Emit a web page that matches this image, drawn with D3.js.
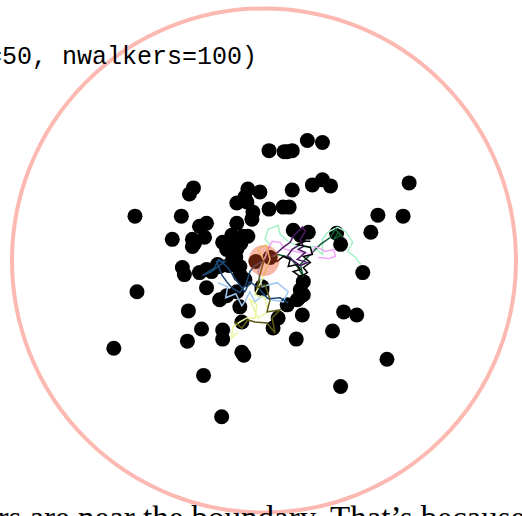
<!DOCTYPE html>
<html>
<head>
<meta charset="utf-8">
<script src="https://cdn.jsdelivr.net/npm/d3@7"></script>
<style>
html,body{margin:0;padding:0;background:#fff;overflow:hidden;}
svg{display:block;}
</style>
</head>
<body>
<svg id="chart" width="522" height="516"></svg>
<script>
// Final walker positions (unit disc coordinates)
const walkerX = [0.02,0.08,0.112,0.172,0.232,-0.296,-0.28,-0.064,-0.016,0.112,0.192,0.232,0.264,0.576,-0.512,-0.328,-0.256,-0.228,-0.108,-0.068,
0.02,0.076,0.452,0.552,-0.364,-0.284,-0.284,-0.236,0.424,0.116,0.176,0.288,0.304,-0.324,-0.316,-0.256,-0.184,-0.116,-0.096,-0.076,
-0.504,-0.228,-0.148,-0.108,-0.008,0.156,0.156,0.392,-0.3,0.152,0.056,0.036,0.128,0.316,0.368,0.272,-0.088,-0.596,-0.304,-0.248,
-0.164,-0.164,-0.08,-0.088,-0.24,-0.168,0.304,0.488,-0.108,-0.048,-0.164,-0.124,-0.084,-0.108,-0.124,-0.096,-0.176,-0.228,0.092,0.132,
0.144,-0.032,0.024,-0.176,-0.096,-0.148,0.144,-0.064,-0.044,-0.112,-0.092,-0.14,-0.208,-0.276,0.144,0.1,-0.076,0.092,-0.128,-0.008];
const walkerY = [0.436,0.432,0.436,0.476,0.468,0.264,0.288,0.284,0.272,0.28,0.3,0.32,0.296,0.308,0.176,0.176,0.136,0.148,0.228,0.232,
0.204,0.212,0.18,0.176,0.084,0.084,0.056,0.092,0.112,0.12,0.112,0.108,0.064,-0.028,-0.056,-0.048,-0.016,-0.016,-0.056,-0.076,
-0.124,-0.108,-0.14,-0.124,-0.104,-0.084,-0.136,-0.048,-0.2,-0.216,-0.228,-0.268,-0.312,-0.204,-0.216,-0.28,-0.244,-0.348,-0.32,-0.272,
-0.276,-0.312,-0.376,-0.364,-0.456,-0.62,-0.5,-0.392,0.148,0.164,0.072,0.084,0.096,0.044,0.004,-0.024,-0.024,-0.036,-0.176,-0.156,
-0.116,-0.004,0.012,-0.156,-0.184,0.044,0.1,0.096,0.192,0.012,0.068,-0.02,-0.044,0.068,-0.144,0.212,0.252,0.432,0.1,-0.116];

// Sample walk trajectories
const walkNames = ["lightgreen","darkgreen","lightpink","darkpurple","black","lightblue","darkblue","lightyellow","olive"];
const walkColors = ["#a6f2c6","#0f5c32","#eea6f7","#4b1862","#000000","#9fc9f3","#1b4a78","#ecf49c","#5c5914"];
const walkLightGreenX = [0,0.024,0.004,0.016,0.056,0.064,0.096,0.144,0.196,0.232,0.232,0.252,0.292,0.324,0.352,0.332,0.364,0.384];
const walkLightGreenY = [0,0.064,0.084,0.124,0.14,0.104,0.076,0.052,0.056,0.024,0.084,0.112,0.132,0.116,0.072,0.036,0.012,-0.016];
const walkDarkGreenX = [0,0.056,0.104,0.132,0.156,0.144,0.184,0.224,0.264,0.284,0.304,0.276,0.296,0.312];
const walkDarkGreenY = [0,0.024,0.012,-0.024,-0.064,-0.016,0.024,0.064,0.092,0.124,0.1,0.084,0.112,0.092];
const walkPinkX = [0,0.016,0.032,0.064,0.084,0.124,0.184,0.204,0.244,0.276,0.284,0.256,0.216];
const walkPinkY = [0,0.044,0.076,0.072,0.044,0.036,0.024,0.056,0.036,0.044,0.016,0.008,0.012];
const walkPurpleX = [0,0.044,0.076,0.104,0.116,0.152,0.164,0.144,0.156,0.136,0.164,0.132,0.172,0.144,0.092,0.112,0.144];
const walkPurpleY = [0,0.024,0.052,0.072,0.096,0.132,0.116,0.084,0.056,0.044,0.032,0.004,-0.008,-0.02,0.016,0.044,0.064];
const walkBlackX = [0,0.032,0.052,0.076,0.104,0.096,0.132,0.144,0.116,0.144,0.172,0.156,0.184,0.156,0.192,0.184,0.132,0.164,0.184];
const walkBlackY = [0,0.012,-0.004,0.016,0.004,-0.024,-0.016,-0.036,-0.044,-0.064,-0.048,-0.028,-0.008,0.016,0.024,0.052,0.064,0.076,0.076];
const walkLightBlueX = [0,-0.024,-0.008,0.052,0.096,0.076,0.032,-0.008,-0.036,-0.056,-0.072,-0.088,-0.112,-0.152,-0.144,-0.184];
const walkLightBlueY = [0,-0.044,-0.104,-0.088,-0.124,-0.164,-0.156,-0.14,-0.164,-0.124,-0.156,-0.18,-0.132,-0.148,-0.104,-0.088];
const walkDarkBlueX = [0,-0.036,-0.056,-0.072,-0.096,-0.128,-0.148,-0.168,-0.188,-0.156,-0.208,-0.244,-0.196,-0.18,-0.144,-0.112,-0.076,-0.056,-0.024,0.016,0.064,0.096];
const walkDarkBlueY = [0,-0.02,-0.044,-0.096,-0.128,-0.108,-0.084,-0.056,-0.004,-0.004,-0.044,-0.06,-0.028,0.004,-0.028,-0.076,-0.124,-0.084,-0.108,-0.152,-0.148,-0.168];
const walkYellowX = [0,-0.024,0.008,0.024,-0.008,-0.036,0.004,0.016,-0.024,-0.056,-0.028,-0.036,-0.068,-0.096,-0.124,-0.128,-0.104];
const walkYellowY = [0,0.044,0.064,0.004,-0.076,-0.136,-0.148,-0.204,-0.228,-0.156,-0.176,-0.228,-0.228,-0.244,-0.264,-0.308,-0.284];
const walkOliveX = [0,-0.016,-0.028,0.004,0.024,0.012,0.064,0.032,0.044,0.012,-0.036,-0.064,-0.088,-0.116];
const walkOliveY = [0,-0.056,-0.108,-0.096,-0.156,-0.204,-0.196,-0.228,-0.288,-0.248,-0.244,-0.236,-0.268,-0.244];

const walksX = [walkLightGreenX,walkDarkGreenX,walkPinkX,walkPurpleX,walkBlackX,walkLightBlueX,walkDarkBlueX,walkYellowX,walkOliveX];
const walksY = [walkLightGreenY,walkDarkGreenY,walkPinkY,walkPurpleY,walkBlackY,walkLightBlueY,walkDarkBlueY,walkYellowY,walkOliveY];

const originX = [0];
const originY = [0];
const boundaryRadius = 1;

const titleText = "simulate(nsteps=50, nwalkers=100)";
const captionText = "walkers are near the boundary. That\u2019s because";

const svg = d3.select("#chart");
const cx = 264, cy = 260.5, R = 252;
const x = d3.scaleLinear().domain([-1, 1]).range([cx - R, cx + R]);
const y = d3.scaleLinear().domain([-1, 1]).range([cy + R, cy - R]);

// boundary circle
svg.append("circle")
  .attr("cx", x(0)).attr("cy", y(0))
  .attr("r", x(boundaryRadius) - x(0))
  .attr("fill", "none")
  .attr("stroke", "#fa8072").attr("stroke-opacity", 0.55)
  .attr("stroke-width", 4);

// walkers
const walkers = walkerX.map((v, i) => ({x: v, y: walkerY[i]}));
svg.append("g").selectAll("circle").data(walkers).join("circle")
  .attr("cx", d => x(d.x)).attr("cy", d => y(d.y))
  .attr("r", 7.5).attr("fill", "#000");

// walks
const line = d3.line().x(d => x(d[0])).y(d => y(d[1]));
walksX.forEach((wx, k) => {
  const pts = wx.map((v, i) => [v, walksY[k][i]]);
  svg.append("path").datum(pts)
    .attr("d", line)
    .attr("fill", "none")
    .attr("stroke", walkColors[k])
    .attr("stroke-width", 1.5)
    .attr("stroke-linejoin", "miter");
});

// origin marker
svg.append("circle")
  .attr("cx", x(originX[0])).attr("cy", y(originY[0]))
  .attr("r", 15.5)
  .attr("fill", "rgb(235,75,30)").attr("fill-opacity", 0.4);

// texts
svg.append("text")
  .attr("x", 257).attr("y", 64)
  .attr("text-anchor", "end")
  .attr("font-family", "Liberation Mono, DejaVu Sans Mono, monospace")
  .attr("font-size", 25)
  .attr("fill", "#000")
  .text(titleText);

// caption: anchored so that "That's" begins where it does in the reference
const cap = svg.append("text")
  .attr("y", 529)
  .attr("font-family", "Liberation Serif, DejaVu Serif, serif")
  .attr("font-size", 33)
  .attr("fill", "#000")
  .text(captionText);
const prefixLen = cap.node().getSubStringLength(0, captionText.indexOf("That"));
cap.attr("x", 330 - prefixLen);
</script>
</body>
</html>
